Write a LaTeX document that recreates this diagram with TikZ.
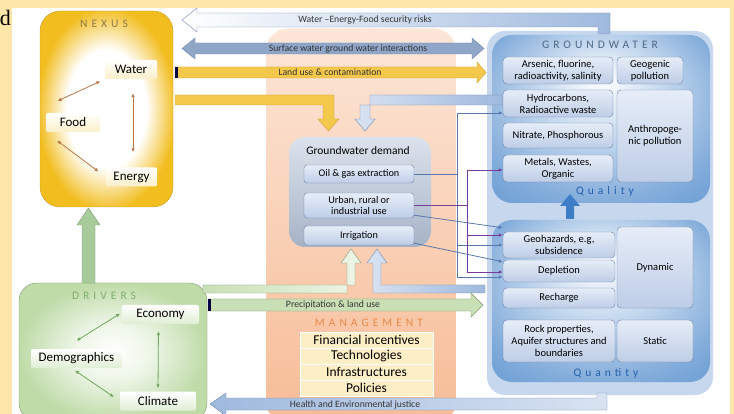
\documentclass[tikz,border=0pt]{standalone}
\usepackage{fontspec}
\setmainfont{Carlito}
\newfontfamily\spaced[LetterSpace=35]{Carlito}
\newfontfamily\pageserif{Liberation Serif}
\usetikzlibrary{arrows.meta}

\definecolor{pageyellow}{HTML}{FDE6A9}
\definecolor{nexgold}{HTML}{F2BD1F}
\definecolor{nexborder}{HTML}{C9A035}
\definecolor{nextitle}{HTML}{8C7A45}
\definecolor{nexarrowc}{HTML}{B8784A}
\definecolor{nexitem}{HTML}{FBEFC9}
\definecolor{drvgreen}{HTML}{BFDBA8}
\definecolor{drvlight}{HTML}{EEF6E8}
\definecolor{drvborder}{HTML}{7E9872}
\definecolor{drvtitle}{HTML}{7FAE6B}
\definecolor{drvarrowc}{HTML}{6EA85A}
\definecolor{mgmtlight}{HTML}{FCE6D8}
\definecolor{mgmtdark}{HTML}{F7BC96}
\definecolor{mgmttitle}{HTML}{E8884A}
\definecolor{mgmtitem}{HTML}{FDEFC5}
\definecolor{dmdtop}{HTML}{DCE2EC}
\definecolor{dmdbottom}{HTML}{A6B3C6}
\definecolor{itemtop}{HTML}{E6EDF8}
\definecolor{itembottom}{HTML}{BECDE6}
\definecolor{itemborder}{HTML}{6A82AA}
\definecolor{gwpanel}{HTML}{C6D7EE}
\definecolor{gwblue}{HTML}{3D7EC6}
\definecolor{gwtitle}{HTML}{4E6887}
\definecolor{gwlabel}{HTML}{245FAD}
\definecolor{lineblue}{HTML}{5877AD}
\definecolor{linepurple}{HTML}{7A3A9A}
\definecolor{arrowblue}{HTML}{9FB9DE}
\definecolor{arrowedge}{HTML}{7489B0}
\definecolor{baryellow}{HTML}{F4C84A}
\definecolor{barlight}{HTML}{FBE7A0}
\definecolor{bargreen}{HTML}{C9DFB5}

\pgfdeclareradialshading{nexusglow}{\pgfpoint{0bp}{0bp}}{color(0bp)=(white); color(15bp)=(white); color(26bp)=(nexgold); color(50bp)=(nexgold)}
\pgfdeclareradialshading{gwglow}{\pgfpoint{0bp}{12bp}}{color(0bp)=(white); color(12bp)=(white!75!gwblue); color(30bp)=(white!35!gwblue); color(50bp)=(white!10!gwblue)}
\pgfdeclareradialshading{drvglow}{\pgfpoint{0bp}{0bp}}{color(0bp)=(white); color(10bp)=(drvlight); color(25bp)=(drvgreen); color(50bp)=(drvgreen)}

\tikzset{
  mgmtbox/.style={shade, top color=mgmtlight, bottom color=mgmtdark, rounded corners=22pt, minimum width=190pt, minimum height=395pt},
  gwbox/.style={fill=gwpanel, rounded corners=18pt, minimum width=226pt, minimum height=364pt},
  glowbox/.style={shade, shading=gwglow, rounded corners=20pt, minimum width=218pt},
  nexusbox/.style={shade, shading=nexusglow, draw=nexborder, rounded corners=20pt, minimum width=133pt, minimum height=196pt},
  drvbox/.style={shade, shading=drvglow, draw=drvborder, rounded corners=18pt, minimum width=188pt, minimum height=138pt},
  dmdbox/.style={shade, top color=dmdtop, bottom color=dmdbottom, rounded corners=16pt, minimum width=142pt, minimum height=110pt},
  boxtitle/.style={font=\spaced\fontsize{11.5}{12}\selectfont, inner sep=0pt},
  nexnode/.style={rounded corners=2pt, top color=white, bottom color=nexitem, minimum height=19pt, inner sep=1pt, font=\fontsize{13}{14}\selectfont},
  drvnode/.style={rounded corners=2pt, top color=white, bottom color=drvlight!70!drvgreen, minimum height=19pt, inner sep=1pt, font=\fontsize{13}{14}\selectfont},
  dmdnode/.style={draw=itemborder, rounded corners=3pt, top color=itemtop, bottom color=itembottom, minimum width=110pt, inner sep=1pt, align=center, font=\fontsize{10.2}{11.5}\selectfont},
  gwnode/.style={draw=itemborder, rounded corners=4pt, top color=itemtop, bottom color=itembottom, inner sep=1pt, align=center, font=\fontsize{10.5}{12}\selectfont},
  mgmtnode/.style={draw=white, line width=1pt, fill=mgmtitem, minimum width=133pt, minimum height=16pt, inner sep=0pt, font=\fontsize{13.5}{14}\selectfont},
  barlabel/.style={inner sep=0pt, text=black!80, font=\fontsize{9.7}{10}\selectfont},
  nexarrow/.style={draw=nexarrowc, line width=0.8pt, {Latex[length=4pt,width=3.5pt]}-{Latex[length=4pt,width=3.5pt]}},
  drvarrow/.style={draw=drvarrowc, line width=0.8pt, {Latex[length=4pt,width=3.5pt]}-{Latex[length=4pt,width=3.5pt]}},
  bluecon/.style={draw=lineblue, line width=0.8pt},
  purplecon/.style={draw=linepurple, line width=0.8pt},
  conntip/.style={-{Latex[length=4pt,width=3.5pt]}},
}

\begin{document}
\begin{tikzpicture}[x=1pt, y=-1pt]
\useasboundingbox (0,0) rectangle (734,414);
\fill[pageyellow] (0,0) rectangle (734,414);
\fill[white] (12,8) rectangle (730,414);
\node[font=\pageserif\fontsize{22}{22}\selectfont, anchor=east, inner sep=0pt] (pagefrag) at (11,18) {d};

% panels
\node[mgmtbox] (mgmt) at (361,226) {};
\node[gwbox] (gw) at (600,213) {};
\node[glowbox, minimum height=168pt] (quality) at (601,119) {};
\node[glowbox, minimum height=162pt] (quantity) at (601,301) {};
\node[nexusbox] (nexus) at (106.5,109) {};
\node[drvbox] (drivers) at (113,352) {};
\node[dmdbox] (demand) at (360,192) {};

% block arrows
\shade[draw=arrowedge, left color=white, right color=arrowblue]
  (182,20) -- (197,8) -- (197,13) -- (610,13) -- (610,34) -- (598,34) -- (598,27) -- (197,27) -- (197,32) -- cycle;
\shade[draw=arrowedge, left color=arrowblue!90!black, middle color=baryellow!80, right color=arrowblue!90!black]
  (182,48.5) -- (195,38) -- (195,43) -- (472,43) -- (472,38) -- (484,48.5) -- (472,59) -- (472,54) -- (195,54) -- (195,59) -- cycle;
\shade[draw=nexborder, left color=baryellow, middle color=barlight, right color=baryellow]
  (175,67) -- (477,67) -- (477,62) -- (486,72.5) -- (477,83) -- (477,78) -- (175,78) -- cycle;
\fill[black!75!blue] (175,67) rectangle (178,78);
\shade[draw=nexborder, left color=baryellow, middle color=white, right color=baryellow]
  (175,95) -- (334,95) -- (334,119) -- (339,119) -- (328.5,131) -- (318,119) -- (323,119) -- (323,105) -- (175,105) -- cycle;
\shade[draw=arrowedge, left color=arrowblue!40, right color=arrowblue]
  (503,95) -- (370,95) -- (370,119) -- (375,119) -- (365,131) -- (355,119) -- (360,119) -- (360,105) -- (503,105) -- cycle;
\shade[draw=drvborder, left color=bargreen, right color=drvlight]
  (203,285) -- (355,285) -- (355,263) -- (361,263) -- (351,249) -- (341,263) -- (347,263) -- (347,293) -- (203,293) -- cycle;
\shade[draw=arrowedge, left color=arrowblue!40, right color=arrowblue]
  (485,285) -- (381,285) -- (381,263) -- (387,263) -- (377,249) -- (367,263) -- (373,263) -- (373,293) -- (485,293) -- cycle;
\shade[draw=drvborder, left color=bargreen, middle color=drvlight, right color=bargreen]
  (208,299) -- (471,299) -- (471,293) -- (483,305) -- (471,317) -- (471,311) -- (208,311) -- cycle;
\fill[black!75!blue] (208,299) rectangle (211,311);
\shade[draw=arrowedge, left color=arrowblue, right color=arrowblue!40]
  (607,393) -- (607,410) -- (226,410) -- (226,416) -- (210,404) -- (226,393) -- (226,398) -- (597,398) -- (597,393) -- cycle;
\fill[gwblue] (566,219) -- (566,206) -- (560,206) -- (570,194) -- (580,206) -- (574,206) -- (574,219) -- cycle;
\shade[draw=drvborder, left color=drvarrowc!60, middle color=drvlight, right color=drvarrowc!60]
  (82,283) -- (82,225) -- (77,225) -- (88.5,208) -- (100,225) -- (95,225) -- (95,283) -- cycle;

% arrow labels
\node[barlabel] (risks) at (365,20) {Water --Energy-Food security risks};
\node[barlabel] (surface) at (348,48.5) {Surface water ground water interactions};
\node[barlabel] (landuse) at (330,72.5) {Land use \& contamination};
\node[barlabel] (precip) at (333,305) {Precipitation \& land use};
\node[barlabel] (health) at (355,404.5) {Health and Environmental justice};

% titles
\node[boxtitle, text=nextitle] (nexustitle) at (104,24) {NEXUS};
\node[boxtitle, text=drvtitle] (drvtitle) at (104,296) {DRIVERS};
\node[boxtitle, text=mgmttitle] (mgmttitle) at (369,323) {MANAGEMENT};
\node[boxtitle, text=gwtitle] (gwtitle) at (600,45) {GROUNDWATER};
\node[boxtitle, text=gwlabel] (qualtitle) at (605,191) {Quality};
\node[boxtitle, text=gwlabel] (quanttitle) at (606,373) {Quantity};
\node[inner sep=0pt, font=\fontsize{11.5}{12}\selectfont] (dmdtitle) at (358,151) {Groundwater demand};

% nexus
\node[nexnode, minimum width=52pt] (water) at (131,69.5) {Water};
\node[nexnode, minimum width=54pt] (food) at (73,122.5) {Food};
\node[nexnode, minimum width=51pt] (energy) at (131.5,177) {Energy};

% drivers
\node[drvnode, minimum width=77pt] (econ) at (160.5,314.5) {Economy};
\node[drvnode, minimum width=91pt] (demo) at (76.5,358.5) {Demographics};
\node[drvnode, minimum width=76pt] (climate) at (158,401) {Climate};

% management
\node[mgmtnode] (finance) at (366.5,340) {Financial incentives};
\node[mgmtnode] (tech) at (366.5,356) {Technologies};
\node[mgmtnode] (infra) at (366.5,372) {Infrastructures};
\node[mgmtnode] (policy) at (366.5,388) {Policies};

% demand
\node[dmdnode, minimum height=18pt] (oil) at (359,174) {Oil \& gas extraction};
\node[dmdnode, minimum height=25pt] (urban) at (359,205.5) {Urban, rural or\\industrial use};
\node[dmdnode, minimum height=19pt] (irr) at (359,235.5) {Irrigation};

% groundwater quality
\node[gwnode, minimum width=110pt, minimum height=27pt] (arsenic) at (558,70.5) {Arsenic, fluorine,\\radioactivity, salinity};
\node[gwnode, minimum width=66pt, minimum height=27pt] (geogenic) at (650,70.5) {Geogenic\\pollution};
\node[gwnode, minimum width=110pt, minimum height=27pt] (hydro) at (558,103.5) {Hydrocarbons,\\Radioactive waste};
\node[gwnode, minimum width=110pt, minimum height=25pt] (nitrate) at (558,135.5) {Nitrate, Phosphorous};
\node[gwnode, minimum width=110pt, minimum height=27pt] (metals) at (558,168.5) {Metals, Wastes,\\Organic};
\node[gwnode, minimum width=76pt, minimum height=92pt] (anthro) at (655,136) {Anthropoge-\\nic pollution};

% groundwater quantity
\node[gwnode, minimum width=112pt, minimum height=26pt] (geo) at (559,245) {Geohazards, e.g,\\subsidence};
\node[gwnode, minimum width=112pt, minimum height=22pt] (depl) at (559,271) {Depletion};
\node[gwnode, minimum width=112pt, minimum height=20pt] (rech) at (559,298) {Recharge};
\node[gwnode, minimum width=112pt, minimum height=42pt] (rock) at (559,341) {Rock properties,\\Aquifer structures and\\boundaries};
\node[gwnode, minimum width=76pt, minimum height=81pt] (dyn) at (655,267.5) {Dynamic};
\node[gwnode, minimum width=76pt, minimum height=42pt] (static) at (655,341) {Static};

% nexus and driver links
\draw[nexarrow, shorten <=5pt, shorten >=2pt] (water.south west) -- ([xshift=10pt,yshift=11pt]food.north west);
\draw[nexarrow, shorten <=14pt, shorten >=15pt] ([xshift=2pt]water.south) -- ([xshift=1.5pt]energy.north);
\draw[nexarrow, shorten <=14pt, shorten >=9pt] (food.south west) -- (energy.west);
\draw[drvarrow, shorten <=2pt] ([yshift=2pt]econ.west) -- ([yshift=8pt]demo.north);
\draw[drvarrow, shorten <=7pt, shorten >=3pt] ([xshift=-2pt]econ.south) -- (climate.north);
\draw[drvarrow, shorten <=4pt, shorten >=7pt] ([xshift=-5pt]demo.south) -- (climate.west);

% demand links
\coordinate (btop) at (457,113);
\coordinate (bbot) at (457,277);
\coordinate (ptop) at (467,170);
\coordinate (pmid) at (467,235);
\coordinate (pbot) at (467,272);
\draw[bluecon] (oil.east) -- (oil.east -| btop);
\draw[bluecon] (btop) -- (bbot);
\draw[bluecon, conntip] (btop) -- (btop -| hydro.west);
\draw[bluecon, conntip] (geo.west -| btop) -- (geo.west);
\draw[bluecon, conntip] (bbot) -- (bbot -| depl.west);
\draw[purplecon] (urban.east) -- (urban.east -| ptop);
\draw[purplecon] (ptop) -- (pbot);
\draw[purplecon, conntip] (ptop) -- (ptop -| metals.west);
\draw[purplecon, conntip] (pmid) -- (pmid -| geo.west);
\draw[purplecon, conntip] (pbot) -- (pbot -| depl.west);
\draw[bluecon, conntip] ([yshift=3pt]urban.south east) -- ([yshift=4pt]geo.north west);
\draw[bluecon, conntip] ([yshift=2pt]irr.south east) -- ([yshift=-2pt]depl.north west);
\end{tikzpicture}
\end{document}
